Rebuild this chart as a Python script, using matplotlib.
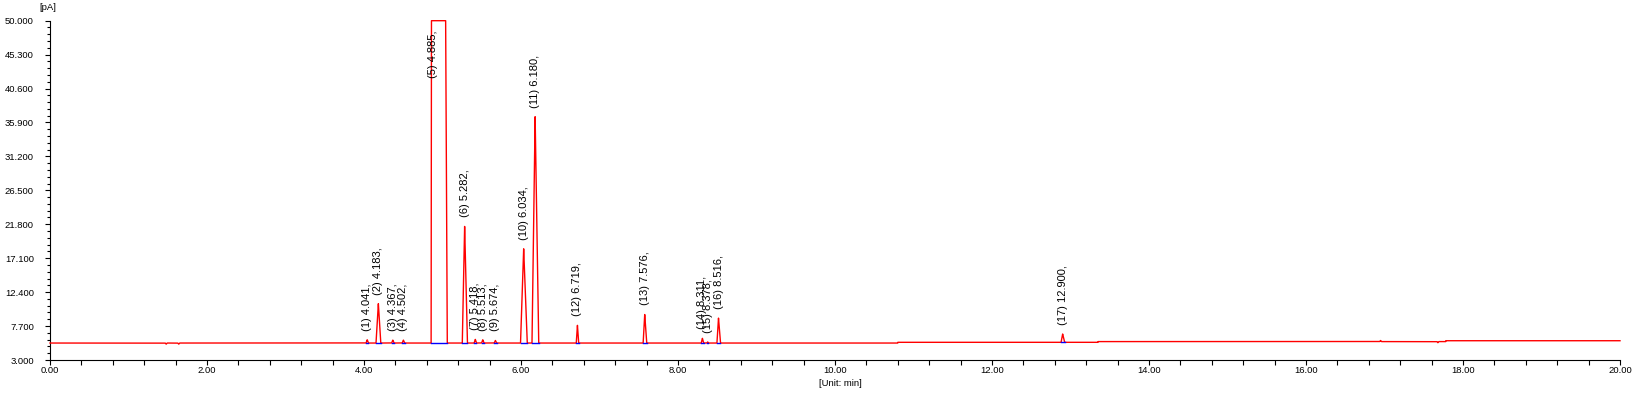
"""
Chromatogram (FID signal in pA vs retention time) with labelled peaks
"""

import numpy as np
import matplotlib
matplotlib.use("Agg")
import matplotlib.pyplot as plt
from matplotlib.ticker import FixedLocator, FormatStrFormatter

plt.rcParams['font.family'] = ['Liberation Sans', 'DejaVu Sans']

# peak table
peak_no = [1, 2, 3, 4, 5, 6, 7, 8, 9, 10, 11, 12, 13, 14, 15, 16, 17]
peak_rt = [4.041, 4.183, 4.367, 4.502, 4.885, 5.282, 5.418, 5.513, 5.674,
           6.034, 6.180, 6.719, 7.576, 8.311, 8.378, 8.516, 12.900]
# apex signal [pA]; peak 5 is off scale (clipped at 50)
peak_top = [5.8, 10.8, 5.75, 5.75, 400.0, 21.5, 5.85, 5.8, 5.7,
            18.4, 36.7, 7.8, 9.3, 6.0, 5.5, 8.8, 6.6]
# half widths at the base [min], leading / tailing side
peak_wl = [0.015, 0.03, 0.015, 0.015, 0.03, 0.03, 0.015, 0.015, 0.015,
           0.04, 0.04, 0.015, 0.02, 0.015, 0.01, 0.02, 0.02]
peak_wr = [0.015, 0.03, 0.015, 0.015, 0.175, 0.035, 0.015, 0.015, 0.015,
           0.045, 0.045, 0.015, 0.025, 0.015, 0.01, 0.025, 0.025]

# baseline drift: level changes at these times
base_t = [0.0, 10.8, 13.35, 17.78]
base_lv = [5.35, 5.45, 5.55, 5.67]

# small baseline glitches (no label)
glitch_t = [1.48, 1.64, 16.95, 17.68]
glitch_h = [-0.15, -0.15, 0.15, -0.15]

y_top = 50.0
y_bot = 3.0


def baseline(t):
    idx = np.searchsorted(base_t, t, side='right') - 1
    return np.array(base_lv)[idx]


def triangle(t, rt, h, wl, wr):
    left = np.clip(1 - (rt - t) / wl, 0, 1)
    right = np.clip(1 - (t - rt) / wr, 0, 1)
    return h * np.where(t <= rt, left, right)


t = np.linspace(0, 20, 40001)
base = baseline(t)
sig = base.copy()
for rt, top, wl, wr in zip(peak_rt, peak_top, peak_wl, peak_wr):
    b = baseline(np.array([rt]))[0]
    sig += triangle(t, rt, top - b, wl, wr)
for gt, gh in zip(glitch_t, glitch_h):
    sig += triangle(t, gt, gh, 0.012, 0.012)
sig = np.minimum(sig, y_top)

fig = plt.figure(figsize=(16.36, 3.95), dpi=100)
ax = fig.add_axes([50 / 1636, 1 - 360 / 395, 1570 / 1636, (360 - 20.7) / 395])

ax.plot(t, sig, color='#ff0000', lw=1.0, clip_on=False, zorder=3)

# integration baselines under each peak
for rt, wl, wr in zip(peak_rt, peak_wl, peak_wr):
    tt = np.array([rt - wl, rt + wr])
    ax.plot(tt, baseline(tt), color='#0000ff', lw=1.0, zorder=4)

# peak labels, vertical above apex
for n, rt, top in zip(peak_no, peak_rt, peak_top):
    y = min(top, 40.8)  # off-scale peak gets its label lower down
    ax.annotate(f"({n}) {rt:.3f},", xy=(rt, y), xytext=(0, 6.5),
                textcoords='offset points', rotation=90, ha='center',
                va='bottom', fontsize=8.0, color='black', zorder=5)

ax.set_xlim(0, 20)
ax.set_ylim(y_bot, y_top)

ax.xaxis.set_major_locator(FixedLocator(np.arange(0, 20.01, 2)))
ax.xaxis.set_minor_locator(FixedLocator(np.arange(0, 20.01, 0.4)))
ax.xaxis.set_major_formatter(FormatStrFormatter('%.2f'))
ax.yaxis.set_major_locator(FixedLocator(np.linspace(3, 50, 11)))
ax.yaxis.set_minor_locator(FixedLocator(np.linspace(3, 50, 51)))
ax.yaxis.set_major_formatter(FormatStrFormatter('%.3f'))

ax.tick_params(axis='x', which='both', direction='out', length=3.6,
               width=0.8, labelsize=6.8, pad=0.8)
ax.tick_params(axis='y', which='major', direction='out', length=3.6,
               width=0.8, labelsize=6.8, pad=8)
ax.tick_params(axis='y', which='minor', direction='out', length=2.2,
               width=0.8)

for s in ['top', 'right']:
    ax.spines[s].set_visible(False)
for s in ['left', 'bottom']:
    ax.spines[s].set_linewidth(0.8)

fig.text(840 / 1636, 1 - 383 / 395, "[Unit: min]", ha='center',
         va='center', fontsize=6.8)
fig.text(48 / 1636, 1 - 8 / 395, "[pA]", ha='center', va='center',
         fontsize=6.8)

fig.savefig("out.png", dpi=100)
